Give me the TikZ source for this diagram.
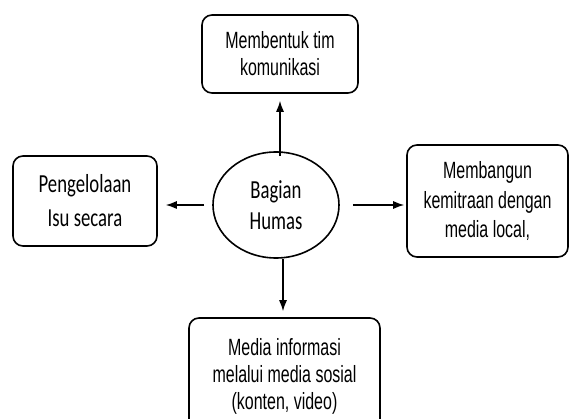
\documentclass[tikz,border=0pt]{standalone}
\usepackage{fontspec}
\usepackage{tikz}
\usetikzlibrary{arrows.meta,shapes.geometric,positioning}
\newfontfamily\arialfont[FakeStretch=0.68]{Liberation Sans}
\newfontfamily\calibfont[FakeStretch=0.72]{Carlito}
\tikzset{
  kotak/.style={
      draw,
      line width=1.6pt,
      rounded corners=10pt,
      align=center,
      inner sep=0pt,
      font=\arialfont\fontsize{23.5}{27}\selectfont,
  },
  kotakcal/.style={
      kotak,
      font=\calibfont\fontsize{26}{34}\selectfont,
  },
  pusat/.style={
      draw,
      ellipse,
      line width=1.6pt,
      align=center,
      inner sep=0pt,
      font=\calibfont\fontsize{26}{31}\selectfont,
  },
  panah/.style={
      -{Latex[length=11pt,width=8pt]},
      line width=1.2pt,
  },
}
\begin{document}
\begin{tikzpicture}[x=1pt,y=-1pt]
  \clip (0,0) rectangle (570,419);
  \useasboundingbox (0,0) rectangle (570,419);

  \node[pusat, minimum width=126pt, minimum height=106pt] (humas) at (276,205) {Bagian\\Humas};
  \node[kotak, minimum width=156pt, minimum height=78pt] (tim) at (280,54) {Membentuk tim\\komunikasi};
  \node[kotakcal, minimum width=144pt, minimum height=90pt] (isu) at (85,201) {Pengelolaan\\Isu secara};
  \node[kotak, minimum width=161pt, minimum height=112pt,
        font=\arialfont\fontsize{23.5}{29.5}\selectfont] (mitra) at (487.5,201) {Membangun\\kemitraan dengan\\media local,};
  \node[kotak, minimum width=191pt, minimum height=116pt] (medsos) at (284.5,376) {Media informasi\\melalui media sosial\\(konten, video)};

  % arrows from the centre
  \draw[panah, shorten <=-5pt, shorten >=7pt] (humas.north -| tim.south) -- (tim.south);
  \draw[panah, shorten >=6pt] ([xshift=7pt]humas.south) -- ([xshift=-1.5pt]medsos.north);
  \draw[panah, shorten <=8pt, shorten >=8pt] (humas.west) -- (humas.west -| isu.east);
  \draw[panah, shorten <=13pt, shorten >=2pt] (humas.east) -- (humas.east -| mitra.west);
\end{tikzpicture}
\end{document}
